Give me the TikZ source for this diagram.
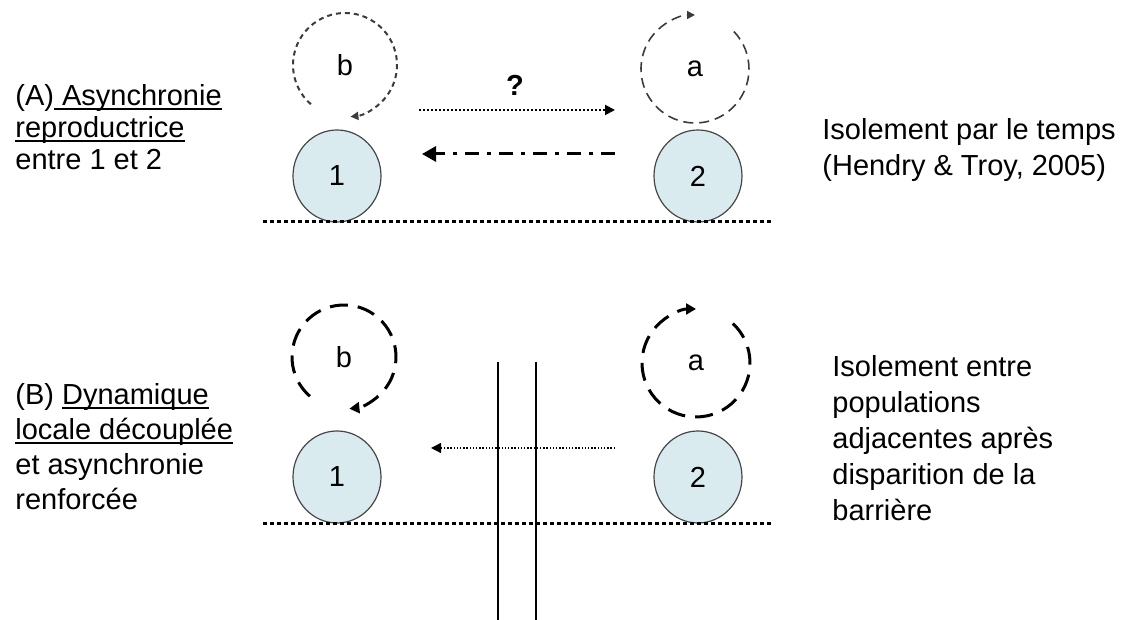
\documentclass[tikz,border=0pt]{standalone}
\usepackage{fontspec}
\setmainfont{Liberation Sans}
\usetikzlibrary{arrows.meta,shapes.geometric}
\definecolor{popfill}{RGB}{218,235,240}
\definecolor{popline}{RGB}{70,70,70}
\definecolor{loopgray}{RGB}{60,60,60}
\newsavebox\ulbox
\newcommand{\uln}[1]{\sbox\ulbox{#1}\rlap{\rule[-2.4pt]{\wd\ulbox}{0.9pt}}\usebox\ulbox}
\tikzset{
  pop/.style={ellipse, draw=popline, line width=0.6pt, fill=popfill,
    minimum width=44pt, minimum height=46pt, inner sep=0pt},
  lbl/.style={inner sep=0pt},
  txt/.style={anchor=north west, align=left, inner sep=0pt},
  ground/.style={line width=1.5pt, dash pattern=on 2pt off 1.5pt},
  cyclethin/.style={loopgray, line width=1pt, dash pattern=on 2.5pt off 2pt,
    -{Triangle[length=4pt,width=4pt]}},
  cyclemed/.style={loopgray, line width=0.8pt, dash pattern=on 5pt off 3pt,
    -{Triangle[length=4pt,width=4pt]}},
  cyclethick/.style={line width=1.5pt, dash pattern=on 9pt off 5pt,
    -{Triangle[length=5pt,width=5.5pt]}},
  flowdot/.style={line width=1pt, dash pattern=on 1pt off 1pt,
    -{Triangle[length=5pt,width=5pt]}},
  flowdashdot/.style={line width=1.5pt, dash pattern=on 7pt off 4pt on 2pt off 4pt,
    -{Triangle[length=7pt,width=7.5pt]}},
  flowthin/.style={line width=0.7pt, dash pattern=on 0.7pt off 0.9pt,
    -{Triangle[length=5pt,width=5pt]}},
  barrier/.style={line width=1.2pt}
}
\begin{document}
\begin{tikzpicture}[x=0.5pt,y=0.5pt,font=\fontsize{14.5}{16}\selectfont]
\useasboundingbox (0,0) rectangle (1126,620);
% (A) asynchronie reproductrice
\node[txt, font=\fontsize{14.5}{16}\selectfont] (ta) at (15,536)
  {(A)\uln{ Asynchronie}\\\uln{reproductrice}\\entre 1 et 2};
\node[pop] (p1) at (337,444) {1};
\node[pop] (p2) at (698,444) {2};
\draw[ground] (263,398) -- (772,398);
\node[lbl] (b1) at (345,555) {b};
\draw[cyclethin] ([shift={(229:26pt)}]b1.center) arc[start angle=229, end angle=-84, radius=26pt];
\node[lbl] (a1) at (695,551) {a};
\draw[cyclemed] ([shift={(44:27pt)}]a1.center) arc[start angle=44, end angle=-270, radius=27pt];
\coordinate (r1s) at (419,510);
\coordinate (r1e) at (615,510);
\draw[flowdot] (r1s) -- (r1e);
\node[lbl, font=\fontsize{14.5}{16}\selectfont\bfseries] (q) at (515,535) {?};
\coordinate (l1s) at (615,466);
\coordinate (l1e) at (422,466);
\draw[flowdashdot] (l1s) -- (l1e);
\node[txt, font=\fontsize{14.5}{18}\selectfont] (tr1) at (822,502)
  {Isolement par le temps\\(Hendry \& Troy, 2005)};
% (B) dynamique locale
\node[txt, font=\fontsize{14.5}{17.5}\selectfont] (tb) at (15,237)
  {(B) \uln{Dynamique}\\\uln{locale découplée}\\et asynchronie\\renforcée};
\node[pop] (q1) at (337,143) {1};
\node[pop] (q2) at (698,143) {2};
\draw[ground] (263,96) -- (772,96);
\node[lbl] (b2) at (344,263) {b};
\draw[cyclethick] ([shift={(229:26pt)}]b2.center) arc[start angle=229, end angle=-84, radius=26pt];
\node[lbl] (a2) at (696,257) {a};
\draw[cyclethick] ([shift={(47:27pt)}]a2.center) arc[start angle=47, end angle=-270, radius=27pt];
\coordinate (w1t) at (498,258);
\coordinate (w1b) at (498,0);
\coordinate (w2t) at (536,258);
\coordinate (w2b) at (536,0);
\draw[barrier] (w1t) -- (w1b);
\draw[barrier] (w2t) -- (w2b);
\coordinate (l2s) at (615,172);
\coordinate (l2e) at (431,172);
\draw[flowthin] (l2s) -- (l2e);
\node[txt, font=\fontsize{14.5}{18}\selectfont] (tr2) at (832,265)
  {Isolement entre\\populations\\adjacentes après\\disparition de la\\barrière};
\end{tikzpicture}
\end{document}
